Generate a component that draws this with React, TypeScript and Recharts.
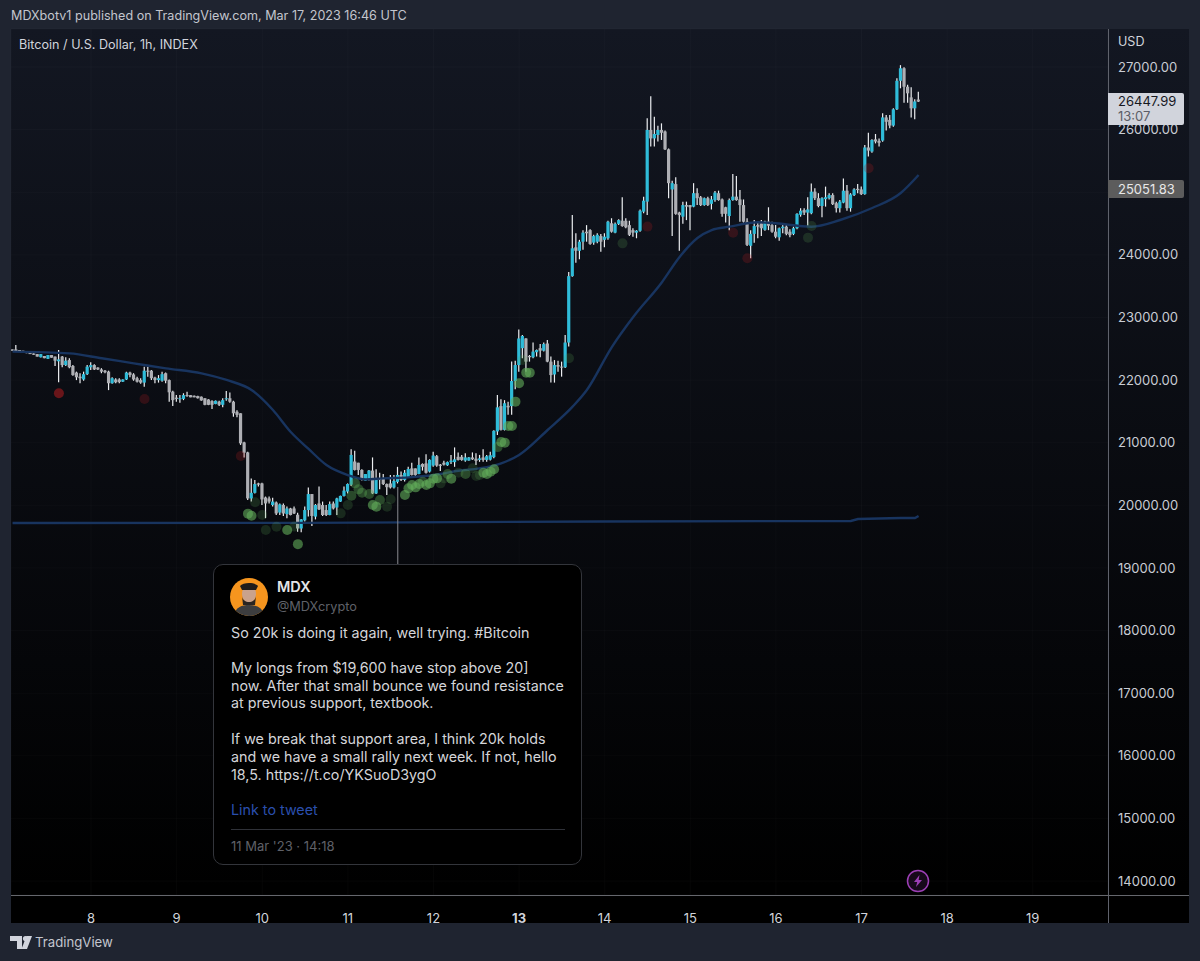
import React from 'react';
import { ComposedChart, Bar, Line, Scatter, XAxis, YAxis, CartesianGrid, ReferenceLine } from 'recharts';

// hourly candles, first bar is Mar 7 02:00, hours counted from Mar 8 00:00
const firstHour = -22;

const opens = [
  22490, 22490, 22480, 22470, 22455, 22435, 22425, 22415, 22365, 22385,
  22340, 22400, 22375, 22300, 22375, 22240, 22320, 22225, 22120, 22055,
  22010, 22095, 22205, 22240, 22200, 22170, 22150, 22135, 21950, 22010,
  22010, 21975, 22010, 22120, 22090, 22030, 22000, 21960, 22150, 22150,
  22040, 22000, 21990, 22110, 22000, 21815, 21720, 21700, 21700, 21760,
  21760, 21750, 21745, 21735, 21710, 21690, 21665, 21620, 21655, 21605,
  21695, 21710, 21655, 21495, 21470, 21005, 20845, 20110, 20200, 20350,
  20350, 20125, 20110, 20005, 20045, 19885, 20005, 19860, 19950, 19950,
  19850, 19630, 19760, 19925, 20180, 19820, 20030, 20005, 19925, 19845,
  20030, 19965, 20060, 20150, 20220, 20330, 20700, 20680, 20565, 20395,
  20405, 20555, 20190, 20430, 20430, 20340, 20350, 20285, 20375, 20485,
  20405, 20445, 20590, 20590, 20500, 20660, 20670, 20540, 20635, 20785,
  20650, 20680, 20640, 20690, 20690, 20775, 20775, 20715, 20715, 20765,
  20745, 20725, 20765, 20725, 20730, 20770, 21180, 21585, 21205, 21590,
  21585, 21985, 22240, 22510, 22665, 22385, 22365, 22445, 22510, 22470,
  22585, 22295, 22090, 22240, 22215, 22205, 22600, 23660, 24120, 24065,
  24210, 24370, 24395, 24195, 24210, 24300, 24240, 24265, 24505, 24355,
  24495, 24545, 24545, 24475, 24395, 24355, 24385, 24690, 24850, 25995,
  25860, 25915, 25995, 25970, 25685, 25045, 25130, 24675, 24610, 24795,
  24795, 24770, 24985, 24920, 24795, 24905, 24815, 24875, 24985, 24885,
  24760, 24620, 24875, 24930, 24885, 24795, 24530, 24145, 24335, 24475,
  24505, 24400, 24530, 24475, 24370, 24280, 24425, 24450, 24370, 24335,
  24425, 24640, 24715, 24675, 24665, 25010, 24905, 24780, 24890, 24905,
  24955, 24825, 24745, 24835, 25025, 24745, 24955, 25055, 25045, 24970,
  25715, 25650, 25845, 25820, 25825, 26195, 26155, 26065, 26325, 26780,
  26980, 26685, 26515, 26340, 26480,
];

const closes = [
  22470, 22455, 22455, 22450, 22430, 22415, 22405, 22375, 22415, 22350,
  22400, 22358, 22310, 22330, 22240, 22310, 22205, 22080, 22045, 22030,
  22095, 22215, 22240, 22170, 22170, 22135, 22125, 21950, 22030, 21965,
  21970, 22010, 22120, 22080, 22010, 21975, 21960, 22150, 22135, 22030,
  22000, 22030, 22095, 21990, 21805, 21680, 21700, 21710, 21760, 21745,
  21725, 21725, 21710, 21675, 21605, 21605, 21605, 21670, 21605, 21680,
  21710, 21655, 21470, 21445, 20990, 20840, 20110, 20200, 20340, 20330,
  20095, 20030, 20060, 20060, 19870, 20015, 19870, 19950, 19845, 19870,
  19630, 19775, 19925, 20180, 19830, 20005, 19935, 19845, 19845, 20020,
  19950, 20110, 20150, 20235, 20340, 20805, 20565, 20565, 20405, 20500,
  20555, 20190, 20420, 20405, 20340, 20290, 20285, 20390, 20485, 20405,
  20520, 20580, 20485, 20485, 20645, 20615, 20520, 20725, 20795, 20635,
  20630, 20650, 20690, 20715, 20735, 20725, 20725, 20765, 20765, 20735,
  20710, 20750, 20725, 20785, 20800, 21190, 21565, 21205, 21630, 21565,
  21985, 22240, 22665, 22705, 22295, 22365, 22455, 22480, 22470, 22575,
  22295, 22080, 22240, 22215, 22205, 22600, 23660, 24105, 24065, 24210,
  24355, 24345, 24175, 24300, 24320, 24210, 24290, 24530, 24370, 24495,
  24555, 24460, 24440, 24320, 24355, 24385, 24705, 24865, 25995, 25860,
  25930, 25995, 25950, 25685, 25145, 25145, 24655, 24635, 24795, 24770,
  24760, 24985, 24905, 24795, 24905, 24795, 24885, 24995, 24875, 24655,
  24655, 24875, 24930, 24875, 24795, 24530, 24160, 24335, 24460, 24450,
  24425, 24530, 24465, 24370, 24290, 24425, 24450, 24335, 24315, 24425,
  24655, 24705, 24675, 24725, 25010, 24905, 24780, 24905, 24920, 24955,
  24810, 24745, 24850, 25025, 24745, 24965, 25045, 25035, 24970, 25715,
  25665, 25835, 25810, 25790, 26195, 26125, 26065, 26325, 26780, 26980,
  26685, 26580, 26340, 26450, 26448,
];

const highs = [
  22490, 22560, 22480, 22470, 22455, 22438, 22427, 22417, 22417, 22385,
  22401, 22400, 22375, 22480, 22385, 22365, 22350, 22240, 22135, 22110,
  22135, 22240, 22285, 22255, 22205, 22190, 22160, 22150, 22045, 22030,
  22030, 22015, 22135, 22135, 22110, 22055, 22030, 22215, 22215, 22160,
  22055, 22080, 22135, 22120, 22010, 21830, 21760, 21760, 21790, 21815,
  21760, 21755, 21750, 21740, 21710, 21695, 21680, 21675, 21670, 21710,
  21825, 21800, 21670, 21520, 21470, 21015, 20855, 20430, 20405, 20360,
  20360, 20140, 20140, 20120, 20060, 20030, 20030, 19980, 19960, 19980,
  19880, 19780, 19980, 20285, 20180, 20020, 20300, 20060, 20005, 20060,
  20060, 20120, 20155, 20300, 20350, 20895, 20870, 20680, 20575, 20500,
  20565, 20765, 20575, 20520, 20500, 20350, 20485, 20485, 20615, 20540,
  20565, 20615, 20680, 20590, 20765, 20670, 20815, 20735, 20855, 20805,
  20660, 20710, 20700, 20805, 20925, 20845, 20805, 20830, 20770, 20845,
  20830, 20805, 20895, 20805, 20855, 21200, 21760, 21695, 21680, 21655,
  22295, 22310, 22810, 22720, 22670, 22400, 22600, 22490, 22575, 22600,
  22640, 22375, 22320, 22310, 22295, 22720, 23725, 24635, 24345, 24240,
  24395, 24475, 24410, 24320, 24345, 24335, 24345, 24545, 24585, 24515,
  24570, 24920, 24585, 24545, 24425, 24395, 24725, 24930, 26180, 26535,
  26205, 26060, 26100, 25985, 25700, 25185, 25240, 24690, 24850, 24850,
  24795, 25145, 25065, 24940, 24915, 24930, 24940, 25020, 25025, 24900,
  24770, 24900, 25290, 25260, 25035, 24885, 24585, 24395, 24555, 24530,
  24555, 24545, 24760, 24530, 24475, 24435, 24505, 24475, 24410, 24450,
  24665, 24745, 24745, 24920, 25140, 25065, 24985, 24920, 25090, 24985,
  24985, 24850, 24875, 25220, 25115, 24985, 25065, 25130, 25090, 25755,
  25950, 25845, 25930, 25860, 26260, 26235, 26235, 26340, 26820, 27030,
  26995, 26715, 26675, 26485, 26605,
];

const lows = [
  22470, 22454, 22455, 22450, 22430, 22415, 22405, 22375, 22360, 22348,
  22337, 22358, 22225, 21965, 22205, 22225, 22190, 22070, 22000, 21950,
  21990, 22080, 22160, 22160, 22160, 22110, 22110, 21840, 21940, 21950,
  21950, 21970, 22000, 22045, 21990, 21960, 21940, 21895, 22055, 22000,
  21950, 21960, 21975, 21950, 21655, 21585, 21655, 21640, 21680, 21735,
  21725, 21725, 21705, 21670, 21600, 21600, 21540, 21615, 21585, 21565,
  21670, 21640, 21415, 21405, 20965, 20765, 20085, 20060, 20190, 20300,
  20005, 19795, 20030, 19980, 19845, 19845, 19830, 19795, 19840, 19860,
  19580, 19570, 19740, 19820, 19670, 19775, 19925, 19830, 19830, 19840,
  19935, 19845, 20055, 20140, 20190, 20310, 20555, 20485, 20395, 20395,
  20395, 20180, 20180, 20255, 20325, 20165, 20270, 20270, 20350, 20390,
  20380, 20440, 20475, 20470, 20495, 20555, 20510, 20525, 20615, 20615,
  20550, 20635, 20630, 20660, 20615, 20715, 20710, 20695, 20710, 20725,
  20645, 20695, 20695, 20695, 20715, 20750, 21125, 21195, 21195, 21445,
  21445, 21855, 22135, 22350, 22135, 22295, 22350, 22375, 22365, 22455,
  22285, 21960, 21960, 22135, 22055, 22195, 22535, 23650, 23875, 23930,
  24080, 24210, 24160, 24160, 24185, 24050, 24120, 24240, 24355, 24345,
  24475, 24450, 24425, 24300, 24290, 24265, 24370, 24665, 24635, 25730,
  25730, 25810, 25835, 25675, 24905, 24300, 24640, 24065, 24495, 24555,
  24395, 24760, 24795, 24780, 24785, 24780, 24725, 24850, 24865, 24610,
  24515, 24395, 24865, 24865, 24530, 24515, 24140, 23945, 24195, 24265,
  24300, 24385, 24395, 24355, 24265, 24225, 24345, 24315, 24280, 24315,
  24410, 24610, 24635, 24450, 24650, 24875, 24760, 24600, 24770, 24885,
  24795, 24675, 24675, 24825, 24705, 24690, 24940, 24985, 24955, 24960,
  25570, 25630, 25780, 25730, 25805, 25985, 26020, 26045, 26315, 26660,
  26430, 26430, 26195, 26165, 26440,
];

// the two blue averages, read at a handful of hours
const trendHours = [-22, -6, 3, 12, 21, 31, 38, 45, 51, 56, 61, 66, 72, 77, 82, 89, 96, 103, 109, 115, 120, 128, 135, 139, 146, 152, 160, 165, 170, 174, 179, 187, 191, 202, 210, 219, 227, 232];
const trendValues = [22454, 22427, 22348, 22268, 22188, 22108, 22002, 21842, 21522, 21171, 20900, 20644, 20484, 20415, 20431, 20447, 20484, 20553, 20591, 20671, 20804, 21203, 21576, 21842, 22528, 23008, 23560, 23966, 24269, 24397, 24450, 24520, 24508, 24450, 24557, 24748, 24988, 25275];
const floorHours = [-22, 60, 143, 213, 215, 227, 231, 232];
const floorValues = [19718, 19720, 19742, 19750, 19782, 19798, 19798, 19830];

// signal dots
const greenStrongHours = [44, 45, 55, 58, 79, 80, 88, 89, 90, 91, 92, 94, 95, 96, 97, 101, 110, 111, 112, 113, 115, 116, 117, 118, 119, 120, 122, 123];
const greenStrongPrices = [19867, 19835, 19606, 19380, 20005, 19979, 20165, 20271, 20325, 20287, 20341, 20325, 20351, 20426, 20431, 20426, 20522, 20500, 20538, 20575, 21010, 21001, 21267, 21267, 21656, 21949, 22119, 22119];
const greenMidHours = [73, 74, 75, 76, 78, 81, 93, 100, 105, 114];
const greenMidPrices = [20154, 20351, 20255, 20202, 20181, 20085, 20378, 20500, 20500, 20930];
const greenDimHours = [46, 48, 49, 52, 57, 70, 72, 83, 84, 98, 99, 103, 107, 108, 109, 121, 134, 149, 201, 202];
const greenDimPrices = [20048, 19846, 19606, 19659, 19660, 19872, 20005, 19979, 20096, 20351, 20431, 20522, 20591, 20468, 20484, 22321, 22348, 24184, 24275, 24461];
const redStrongHours = [-9];
const redStrongPrices = [21789];
const redDimHours = [15, 42, 156, 180, 184, 218];
const redDimPrices = [21698, 20788, 24451, 24355, 23945, 25382];

const dayLabels = ['8', '9', '10', '11', '12', '13', '14', '15', '16', '17', '18', '19'];
const dayHours = [0, 24, 48, 72, 96, 120, 144, 168, 192, 216, 240, 264];
const priceTicks = [14000, 15000, 16000, 17000, 18000, 19000, 20000, 21000, 22000, 23000, 24000, 25000, 26000, 27000];
const hiddenPriceLabel = 25000; // sits under the grey 25051.83 tag

const tweetHead = 'So 20k is doing it again, well trying. #Bitcoin';
const tweetLines = [
  'My longs from $19,600 have stop above 20]',
  'now. After that small bounce we found resistance',
  'at previous support, textbook.',
];
const tweetTail = [
  'If we break that support area, I think 20k holds',
  'and we have a small rally next week. If not, hello',
  '18,5. https://t.co/YKSuoD3ygO',
];

const lookup = (hours: number[], values: number[], t: number) => {
  const i = hours.indexOf(t);
  return i >= 0 ? values[i] : null;
};

const chartData = opens.map((open, i) => {
  const t = firstHour + i;
  return {
    t,
    open,
    close: closes[i],
    high: highs[i],
    low: lows[i],
    trend: lookup(trendHours, trendValues, t),
    floor: lookup(floorHours, floorValues, t),
  };
});

const toDots = (hours: number[], prices: number[]) => hours.map((t, i) => ({ t, p: prices[i] }));

const FONT = 'Inter, Roboto, sans-serif';

const Candle = (props: any) => {
  const { x, y, width, height, payload } = props;
  const { open, close, high, low } = payload;
  const cx = x + width / 2;
  const k = height / (high - low);
  const top = y + (high - Math.max(open, close)) * k;
  const bodyH = Math.max(Math.abs(open - close) * k, 1);
  const up = close >= open;
  return (
    <g>
      <line x1={cx} x2={cx} y1={y} y2={y + height} stroke="#eceef1" strokeWidth={1.2} />
      <rect x={cx - 1.6} y={top} width={3.2} height={bodyH} fill={up ? '#2fbcd9' : '#aeafb4'} />
    </g>
  );
};

const dot = (fill: string, opacity: number) => (props: any) => (
  <circle cx={props.cx} cy={props.cy} r={5} fill={fill} fillOpacity={opacity} />
);

const DayTick = ({ x, y, payload }: any) => {
  const label = dayLabels[dayHours.indexOf(payload.value)];
  return (
    <text x={x} y={y + 20} textAnchor="middle" fill="#d1d4dc" fontSize={13} fontWeight={label === '13' ? 700 : 400} fontFamily={FONT}>
      {label}
    </text>
  );
};

const Txt = ({ x, y, size = 12.6, color = '#d1d4dc', weight = 400, children }: any) => (
  <div style={{ position: 'absolute', left: x, top: y, transform: 'translateY(-50%)', whiteSpace: 'nowrap', fontSize: size, color, fontWeight: weight, fontFamily: FONT, lineHeight: 1 }}>
    {children}
  </div>
);

const Avatar = () => (
  <svg width={38} height={38} viewBox="0 0 38 38" style={{ position: 'absolute', left: 230, top: 578 }}>
    <defs>
      <clipPath id="av"><circle cx={19} cy={19} r={19} /></clipPath>
    </defs>
    <g clipPath="url(#av)">
      <rect width={38} height={38} fill="#f6951e" />
      <path d="M4 38c1-9 8-11 15-11s14 2 15 11z" fill="#3c3d3f" />
      <ellipse cx={19} cy={16} rx={7} ry={9} fill="#c9a28c" />
      <path d="M12 18c1 8 13 8 14 0l-1 9h-12z" fill="#2a2522" />
      <path d="M10 8c3-4 15-4 18 0l-2 4H12z" fill="#1f1c1b" />
    </g>
  </svg>
);

export default function App() {
  return (
    <div style={{ position: 'absolute', left: 0, top: 0, width: 1200, height: 961, overflow: 'hidden', background: '#1f2430', fontFamily: FONT }}>
      <div style={{ position: 'absolute', left: 11, top: 29, width: 1178, height: 894, background: 'linear-gradient(#131722, #000 96%)' }} />
      <div style={{ position: 'absolute', left: 0, top: 0 }}>
        <ComposedChart width={1200} height={961} data={chartData} margin={{ top: 29, right: 11, bottom: 38, left: 11 }}>
          <CartesianGrid stroke="rgba(255,255,255,0.025)" />
          <XAxis
            dataKey="t"
            type="number"
            domain={[-22.43, 285.1]}
            ticks={dayHours}
            height={28}
            axisLine={false}
            tickLine={false}
            tick={<DayTick />}
            interval={0}
            allowDataOverflow
          />
          <YAxis
            dataKey="p"
            type="number"
            orientation="right"
            domain={[13777, 27607]}
            ticks={priceTicks}
            width={81}
            axisLine={false}
            tickLine={false}
            tickSize={0}
            tickMargin={10}
            interval={0}
            tickFormatter={(v: number) => (v === hiddenPriceLabel ? '' : v.toFixed(2))}
            tick={{ fill: '#c9ccd4', fontSize: 13, fontFamily: FONT }}
            allowDataOverflow
          />
          <Scatter data={toDots(greenDimHours, greenDimPrices)} shape={dot('#5aa553', 0.2)} isAnimationActive={false} />
          <Scatter data={toDots(greenMidHours, greenMidPrices)} shape={dot('#5aa553', 0.4)} isAnimationActive={false} />
          <Scatter data={toDots(greenStrongHours, greenStrongPrices)} shape={dot('#62ad5a', 0.6)} isAnimationActive={false} />
          <Scatter data={toDots(redDimHours, redDimPrices)} shape={dot('#a81a1e', 0.25)} isAnimationActive={false} />
          <Scatter data={toDots(redStrongHours, redStrongPrices)} shape={dot('#a81a1e', 0.6)} isAnimationActive={false} />
          <Line dataKey="trend" type="monotone" stroke="#18345f" strokeWidth={2.4} dot={false} connectNulls isAnimationActive={false} />
          <Line dataKey="floor" type="linear" stroke="#18345f" strokeWidth={2.4} dot={false} connectNulls isAnimationActive={false} />
          <Bar dataKey={(d: any) => [d.low, d.high]} barSize={3} shape={<Candle />} isAnimationActive={false} />
          <ReferenceLine segment={[{ x: 86, y: 20293 }, { x: 86, y: 19047 }]} stroke="#8a8c92" strokeWidth={1} />
        </ComposedChart>
      </div>

      <div style={{ position: 'absolute', left: 1108, top: 29, width: 1, height: 894, background: '#5f626c' }} />
      <div style={{ position: 'absolute', left: 11, top: 895, width: 1178, height: 1, background: '#65676d' }} />

      <Txt x={11} y={16} color="#c3c6ce">MDXbotv1 published on TradingView.com, Mar 17, 2023 16:46 UTC</Txt>
      <Txt x={19} y={45}>Bitcoin / U.S. Dollar, 1h, INDEX</Txt>
      <Txt x={1118} y={42}>USD</Txt>

      <div style={{ position: 'absolute', left: 1108, top: 93, width: 76, height: 32, background: '#d1d4dc', borderRadius: '0 2px 2px 0' }} />
      <Txt x={1118} y={101} size={13} color="#16181f">26447.99</Txt>
      <Txt x={1118} y={116} size={13} color="#5c5e66">13:07</Txt>
      <div style={{ position: 'absolute', left: 1108, top: 180, width: 76, height: 18, background: '#5c5c5c', borderRadius: '0 2px 2px 0' }} />
      <Txt x={1118} y={189} size={13} color="#e8e8e8">25051.83</Txt>

      <div style={{ position: 'absolute', left: 213, top: 564, width: 367, height: 299, background: '#000', border: '1px solid #33353b', borderRadius: 10 }} />
      <Avatar />
      <Txt x={277} y={587} size={14.5} weight={600} color="#e4e5e8">MDX</Txt>
      <Txt x={277} y={607} size={12.75} color="#5f6168">@MDXcrypto</Txt>
      <Txt x={231} y={633} size={14.3} color="#d4d5d9">{tweetHead}</Txt>
      {tweetLines.map((l, i) => (
        <Txt key={l} x={231} y={668 + i * 17.6} size={14.3} color="#d4d5d9">{l}</Txt>
      ))}
      {tweetTail.map((l, i) => (
        <Txt key={l} x={231} y={739 + i * 17.8} size={14.3} color="#d4d5d9">{l}</Txt>
      ))}
      <Txt x={231} y={810} size={14.3} color="#2a4fae">Link to tweet</Txt>
      <div style={{ position: 'absolute', left: 231, top: 829, width: 334, height: 1, background: '#2f3138' }} />
      <Txt x={231} y={846} size={13} color="#5f6168">11 Mar '23 · 14:18</Txt>

      <svg width={24} height={24} viewBox="0 0 24 24" style={{ position: 'absolute', left: 906, top: 869 }}>
        <circle cx={12} cy={12} r={10.5} fill="rgba(156,63,181,0.14)" stroke="#9c3fb5" strokeWidth={1.5} />
        <path d="M13.5 6 L8 13 h3.2 L10 18 L16 11 h-3.4z" fill="#9c3fb5" />
      </svg>

      <svg width={22} height={14} viewBox="0 0 22 14" style={{ position: 'absolute', left: 10, top: 936 }}>
        <path d="M0 0h12v13H7V5H0z" fill="#d1d4dc" />
        <circle cx={15.5} cy={2.6} r={2.6} fill="#d1d4dc" />
        <path d="M16.5 0H22l-5 13h-5.5z" fill="#d1d4dc" />
      </svg>
      <Txt x={35} y={943} size={13.2} color="#c3c6ce">TradingView</Txt>
    </div>
  );
}
